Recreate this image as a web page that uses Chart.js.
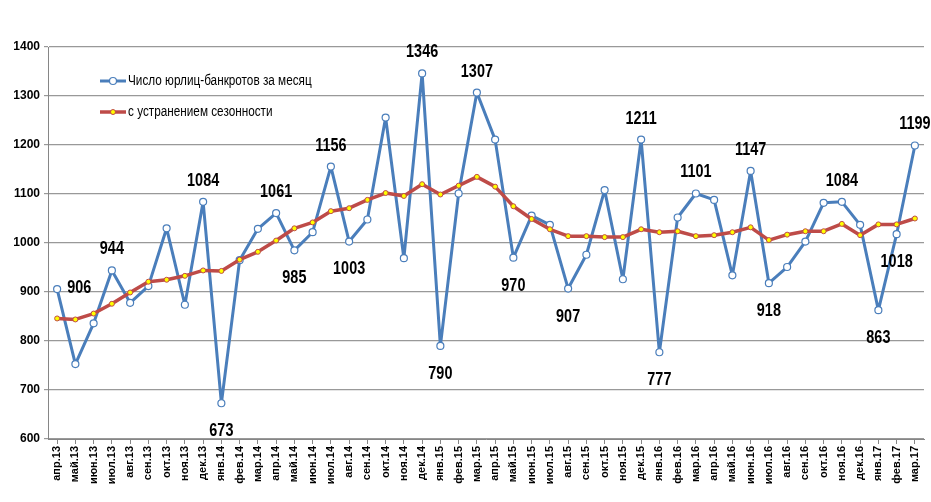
<!DOCTYPE html>
<html>
<head>
<meta charset="utf-8">
<script src="https://cdn.jsdelivr.net/npm/chart.js@4"></script>
<style>
  html, body { margin: 0; padding: 0; background: #fff; }
  #wrap { width: 931px; height: 502px; position: relative; }
</style>
</head>
<body>
<div id="wrap"><canvas id="chart" width="931" height="502"></canvas></div>
<script>
// Месяцы
const months = [
  'апр.13','май.13','июн.13','июл.13','авг.13','сен.13','окт.13','ноя.13','дек.13',
  'янв.14','фев.14','мар.14','апр.14','май.14','июн.14','июл.14','авг.14','сен.14','окт.14','ноя.14','дек.14',
  'янв.15','фев.15','мар.15','апр.15','май.15','июн.15','июл.15','авг.15','сен.15','окт.15','ноя.15','дек.15',
  'янв.16','фев.16','мар.16','апр.16','май.16','июн.16','июл.16','авг.16','сен.16','окт.16','ноя.16','дек.16',
  'янв.17','фев.17','мар.17'
];

// Число юрлиц-банкротов за месяц
const bankrupts = [
  906, 753, 836, 944, 878, 912, 1030, 874, 1084,
  673, 965, 1029, 1061, 985, 1022, 1156, 1003, 1048, 1256, 969, 1346,
  790, 1101, 1307, 1211, 970, 1056, 1037, 907, 976, 1108, 926, 1211,
  777, 1052, 1101, 1088, 934, 1147, 918, 951, 1003, 1082, 1084, 1037,
  863, 1018, 1199
];

// С устранением сезонности
const seasonAdj = [
  846, 844, 856, 876, 899, 921, 925, 933, 944,
  943, 966, 982, 1005, 1030, 1042, 1065, 1071, 1088, 1102, 1096, 1120,
  1099, 1117, 1135, 1115, 1075, 1049, 1028, 1014, 1014, 1012, 1012, 1028,
  1022, 1024, 1014, 1016, 1022, 1032, 1006, 1017, 1024, 1024, 1039, 1016,
  1038, 1038, 1050
];

const yTicks = [600, 700, 800, 900, 1000, 1100, 1200, 1300, 1400];

// Подписанные точки: индекс и где рисовать подпись
const labelIdx = [0, 3, 8, 9, 12, 13, 15, 16, 20, 21, 23, 25, 28, 32, 33, 35, 38, 39, 43, 45, 46, 47];
const labelPos = ['right','above','above','below','above','below','above','below','above','below','above',
                  'below','below','above','below','above','above','below','above','below','below','above'];

const legendNames = ['Число юрлиц-банкротов за месяц', 'с устранением сезонности'];

const BLUE = '#4A7EBB';
const RED = '#BE4B48';

// узкий текст (как Arial Narrow / Calibri) — сжимаем по горизонтали
function narrowText(ctx, txt, x, y, sx) {
  ctx.save();
  ctx.translate(x, y);
  ctx.scale(sx, 1);
  ctx.fillText(txt, 0, 0);
  ctx.restore();
}

// подписи значений
const valueLabels = {
  id: 'valueLabels',
  afterDatasetsDraw(chart) {
    const ctx = chart.ctx;
    const meta = chart.getDatasetMeta(0);
    ctx.save();
    ctx.font = 'bold 18px "Liberation Sans", Arial, sans-serif';
    ctx.fillStyle = '#000';
    labelIdx.forEach((i, k) => {
      const p = meta.data[i];
      const txt = String(bankrupts[i]);
      const pos = labelPos[k];
      if (pos === 'above') {
        ctx.textAlign = 'center'; ctx.textBaseline = 'bottom';
        narrowText(ctx, txt, p.x, p.y - 12, 0.8);
      } else if (pos === 'below') {
        ctx.textAlign = 'center'; ctx.textBaseline = 'top';
        narrowText(ctx, txt, p.x, p.y + 19, 0.8);
      } else {
        ctx.textAlign = 'left'; ctx.textBaseline = 'middle';
        narrowText(ctx, txt, p.x + 10, p.y - 1, 0.8);
      }
    });
    ctx.restore();
  }
};

// легенда внутри области графика
const insideLegend = {
  id: 'insideLegend',
  afterDraw(chart) {
    const ctx = chart.ctx;
    const x0 = 100, ys = [81, 112];
    const cols = [BLUE, RED];
    ctx.save();
    ys.forEach((y, i) => {
      ctx.strokeStyle = cols[i];
      ctx.lineWidth = i === 0 ? 3 : 3.5;
      ctx.beginPath(); ctx.moveTo(x0, y); ctx.lineTo(x0 + 26, y); ctx.stroke();
      ctx.beginPath();
      ctx.arc(x0 + 13, y, i === 0 ? 3.5 : 2.5, 0, Math.PI * 2);
      ctx.fillStyle = i === 0 ? '#fff' : '#FFFF00';
      ctx.fill();
      ctx.lineWidth = i === 0 ? 1.2 : 1;
      ctx.stroke();
      ctx.fillStyle = '#000';
      ctx.font = '14px "Liberation Sans", Arial, sans-serif';
      ctx.textAlign = 'left'; ctx.textBaseline = 'middle';
      narrowText(ctx, legendNames[i], x0 + 28, y, 0.84);
    });
    ctx.restore();
  }
};

const chart = new Chart(document.getElementById('chart'), {
  type: 'line',
  data: {
    labels: months,
    datasets: [
      {
        label: legendNames[0],
        data: bankrupts,
        borderColor: BLUE,
        borderWidth: 3,
        borderJoinStyle: 'round',
        pointRadius: 3.5,
        pointBackgroundColor: '#fff',
        pointBorderColor: BLUE,
        pointBorderWidth: 1.2,
        tension: 0,
        order: 2
      },
      {
        label: legendNames[1],
        data: seasonAdj,
        borderColor: RED,
        borderWidth: 3.5,
        borderJoinStyle: 'round',
        pointRadius: 2.5,
        pointBackgroundColor: '#FFFF00',
        pointBorderColor: RED,
        pointBorderWidth: 1,
        tension: 0,
        order: 1
      }
    ]
  },
  options: {
    responsive: false,
    animation: false,
    layout: { padding: { top: 47, right: 7, left: 0, bottom: 0 } },
    plugins: {
      legend: { display: false },
      tooltip: { enabled: false }
    },
    scales: {
      x: {
        offset: true,
        grid: { drawOnChartArea: false, drawTicks: true, tickLength: 5, color: '#868686' },
        border: { color: '#868686' },
        ticks: {
          autoSkip: false,
          maxRotation: 90,
          minRotation: 90,
          color: '#000',
          padding: 2,
          font: { family: 'Arial, "Liberation Sans", sans-serif', size: 11, weight: 'bold' }
        },
        afterFit(s) { s.height = 63; }
      },
      y: {
        min: 600,
        max: 1400,
        afterBuildTicks(s) { s.ticks = yTicks.map(v => ({ value: v })); },
        grid: { color: '#999999', lineWidth: 1.2, drawTicks: true, tickLength: 4 },
        border: { color: '#868686' },
        ticks: {
          color: '#000',
          padding: 4,
          callback: v => String(v),
          font: { family: 'Arial, "Liberation Sans", sans-serif', size: 12, weight: 'bold' }
        },
        afterFit(s) { s.width = 48; }
      }
    }
  },
  plugins: [valueLabels, insideLegend]
});
</script>
</body>
</html>
